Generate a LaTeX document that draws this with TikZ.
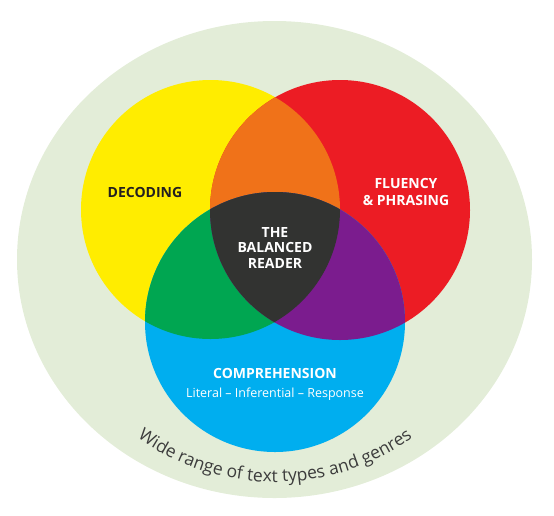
\documentclass[tikz,border=0pt]{standalone}
\usepackage{fontspec}
\setmainfont{Open Sans}
\usetikzlibrary{decorations.text}

\definecolor{ringgreen}{HTML}{E3EDD8}
\definecolor{decyellow}{HTML}{FFED00}
\definecolor{flured}{HTML}{EC1C24}
\definecolor{compblue}{HTML}{00AEEF}
\definecolor{mixorange}{HTML}{F07219}
\definecolor{mixgreen}{HTML}{00A651}
\definecolor{mixpurple}{HTML}{7B1C8E}
\definecolor{coredark}{HTML}{323331}
\definecolor{darktext}{HTML}{231F20}
\definecolor{ringtext}{HTML}{3C3C3C}

\begin{document}
\begin{tikzpicture}[
      x=1pt, y=-1pt,
      venntext/.style={
          font=\bfseries\fontsize{14}{17}\selectfont,
          text=white,
          align=center,
          inner sep=0pt
        },
      subtext/.style={font=\fontsize{12.5}{15}\selectfont, text=white, inner sep=0pt}
    ]
    \useasboundingbox (0,0) rectangle (554,515);

    % outer ring
    \fill[ringgreen] (274.5,259.5) ellipse [x radius=257.5, y radius=238.5];

    % the three circles
    \fill[decyellow] (210.5,209.5) circle [radius=129.5];
    \fill[flured] (340,210) circle [radius=130];
    \fill[compblue] (275,322) circle [radius=130];

    % overlaps
    \begin{scope}
      \clip (210.5,209.5) circle [radius=129.5];
      \fill[mixorange] (340,210) circle [radius=130];
      \fill[mixgreen] (275,322) circle [radius=130];
    \end{scope}
    \begin{scope}
      \clip (340,210) circle [radius=130];
      \fill[mixpurple] (275,322) circle [radius=130];
    \end{scope}
    \begin{scope}
      \clip (210.5,209.5) circle [radius=129.5];
      \clip (340,210) circle [radius=130];
      \fill[coredark] (275,322) circle [radius=130];
    \end{scope}

    % labels
    \node[venntext, text=darktext] (decoding) at (145,192) {DECODING};
    \node[venntext] (fluency) at (406,191.5) {FLUENCY\\\& PHRASING};
    \node[venntext, font=\bfseries\fontsize{14}{15.5}\selectfont] (reader) at (275,247.5) {THE\\BALANCED\\READER};
    \node[venntext] (comprehension) at (275,373) {COMPREHENSION};
    \node[subtext] (levels) at (275,394) {Literal -- Inferential -- Response};

    % text round the ring
    \path[decorate, decoration={text along path, text align=center,
        text={|\fontsize{17.5}{20}\selectfont\color{ringtext}|Wide range of text types and genres}}]
      (275,247) ++(135:235) arc [start angle=135, end angle=45, radius=235];
  \end{tikzpicture}
\end{document}
